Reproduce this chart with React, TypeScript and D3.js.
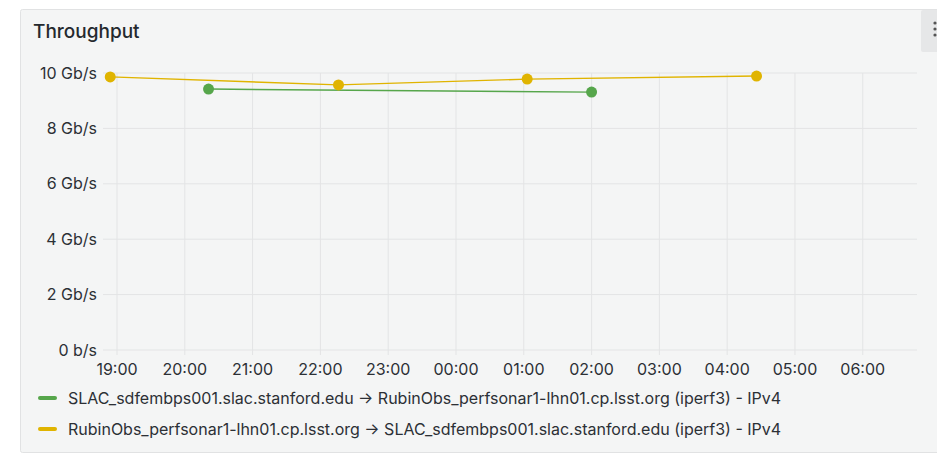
import * as d3 from "d3";
import React from "react";

// hourly ticks shown on the x axis
const tickHours = ["19:00", "20:00", "21:00", "22:00", "23:00", "00:00", "01:00", "02:00", "03:00", "04:00", "05:00", "06:00"];
const yTicks = [0, 2, 4, 6, 8, 10];

// time given as minutes since 18:00 (so 00:00 = 360)
const slacToRubin = [
  { t: 141, v: 9.42 },
  { t: 480, v: 9.31 },
];
const rubinToSlac = [
  { t: 54, v: 9.86 },
  { t: 256, v: 9.57 },
  { t: 423, v: 9.78 },
  { t: 626, v: 9.89 },
];

const seriesNames = [
  "SLAC_sdfembps001.slac.stanford.edu \u2192 RubinObs_perfsonar1-lhn01.cp.lsst.org (iperf3) - IPv4",
  "RubinObs_perfsonar1-lhn01.cp.lsst.org \u2192 SLAC_sdfembps001.slac.stanford.edu (iperf3) - IPv4",
];
const seriesColors = ["#56a64b", "#e0b400"];

const FONT = "Inter, 'Noto Sans', sans-serif";

export default function App() {
  const W = 937;
  const H = 455;
  const plot = { left: 103, right: 917, top: 73, bottom: 350 };

  const x = d3.scaleLinear().domain([47.6, 768]).range([plot.left, plot.right]);
  const y = d3.scaleLinear().domain([0, 10]).range([plot.bottom, plot.top]);

  const line = d3
    .line<{ t: number; v: number }>()
    .x((d) => x(d.t))
    .y((d) => y(d.v));

  const data = [slacToRubin, rubinToSlac];

  return (
    <svg
      width={W}
      height={H}
      style={{ position: "absolute", left: 0, top: 0, background: "#fff" }}
      fontFamily={FONT}
    >
      <rect x={20.5} y={9.5} width={930} height={443} rx={2} fill="#f4f5f5" stroke="#e1e2e3" />
      <rect x={921} y={10} width={20} height={42} rx={2} fill="#e6e7e8" />
      {[23, 29, 35].map((cy) => (
        <circle key={cy} cx={935} cy={cy} r={1.6} fill="#555" />
      ))}
      <text x={33} y={38} fontSize={19} fontWeight={500} fill="#24292e">
        Throughput
      </text>

      {/* grid */}
      {yTicks.map((v) => (
        <g key={v}>
          <line x1={plot.left} x2={plot.right} y1={y(v)} y2={y(v)} stroke="#e3e4e5" />
          <text x={97} y={y(v)} dy="0.35em" textAnchor="end" fontSize={16} fill="#2c3035">
            {v === 0 ? "0 b/s" : `${v} Gb/s`}
          </text>
        </g>
      ))}
      {tickHours.map((lbl, i) => {
        const xp = x(60 + i * 60);
        return (
          <g key={lbl}>
            <line x1={xp} x2={xp} y1={plot.top} y2={plot.bottom + 5} stroke="#e3e4e5" />
            <text x={xp} y={369} dy="0.35em" textAnchor="middle" fontSize={16} fill="#2c3035">
              {lbl}
            </text>
          </g>
        );
      })}

      {/* series */}
      {data.map((s, i) => (
        <g key={i}>
          <path d={line(s) ?? ""} fill="none" stroke={seriesColors[i]} strokeWidth={1.4} />
          {s.map((d, j) => (
            <circle key={j} cx={x(d.t)} cy={y(d.v)} r={5.5} fill={seriesColors[i]} />
          ))}
        </g>
      ))}

      {/* legend */}
      {seriesNames.map((name, i) => (
        <g key={name} transform={`translate(0,${398 + i * 31})`}>
          <rect x={38} y={-2} width={19} height={4} rx={2} fill={seriesColors[i]} />
          <text x={68} y={0} dy="0.35em" fontSize={16} fill="#2c3035">
            {name}
          </text>
        </g>
      ))}
    </svg>
  );
}
